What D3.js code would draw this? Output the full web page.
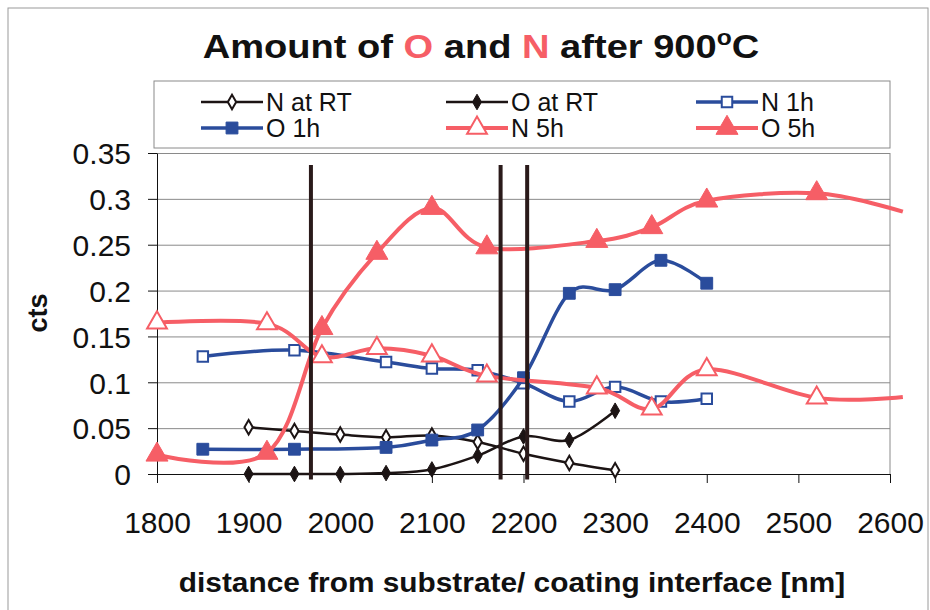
<!DOCTYPE html>
<html>
<head>
<meta charset="utf-8">
<script src="https://cdn.jsdelivr.net/npm/d3@7"></script>
<style>
  body { margin: 0; background: #fff; }
  svg { font-family: "Liberation Sans", Arial, sans-serif; }
  .axis path, .axis line { stroke: #111; }
  .grid line { stroke: #8a8a8a; stroke-width: 1; }
  .grid path { display: none; }
</style>
</head>
<body>
<svg id="chart" width="930" height="610"></svg>
<script>
// ---- data ----
const rtX = [1900, 1950, 2000, 2050, 2100, 2150, 2200, 2250, 2300];
const nAtRT = [0.051, 0.047, 0.043, 0.040, 0.042, 0.035, 0.022, 0.012, 0.004];
const oAtRT = [0.000, 0.000, 0.000, 0.001, 0.005, 0.020, 0.041, 0.037, 0.069];

const h1X = [1850, 1950, 2050, 2100, 2150, 2200, 2250, 2300, 2350, 2400];
const n1h = [0.128, 0.135, 0.122, 0.115, 0.113, 0.099, 0.079, 0.095, 0.079, 0.082];
const o1h = [0.027, 0.027, 0.029, 0.037, 0.048, 0.105, 0.197, 0.201, 0.233, 0.208];

// last point sits just past the axis end (no marker there)
const h5X = [1800, 1920, 1980, 2040, 2100, 2160, 2280, 2340, 2400, 2520, 2614];
const n5h = [0.165, 0.164, 0.128, 0.137, 0.129, 0.107, 0.094, 0.071, 0.114, 0.083, 0.084];
const o5h = [0.021, 0.023, 0.159, 0.241, 0.290, 0.247, 0.254, 0.269, 0.298, 0.306, 0.286];

const markLines = [1968, 2175, 2204];   // vertical interface markers
const markTop = 0.337, markBottom = -0.006;

const xTicks = [1800, 1900, 2000, 2100, 2200, 2300, 2400, 2500, 2600];
const yTicks = [0, 0.05, 0.1, 0.15, 0.2, 0.25, 0.3, 0.35];
const yTickLabels = ['0', '0.05', '0.1', '0.15', '0.2', '0.25', '0.3', '0.35'];

const RED = '#f65e66', BLUE = '#2a4c9c', BLACK = '#1c1414';

const series = [
  {name: 'N at RT', xs: rtX, ys: nAtRT, color: BLACK, width: 2.5, sym: d3.symbolDiamond, size: 60, open: true},
  {name: 'O at RT', xs: rtX, ys: oAtRT, color: BLACK, width: 2.5, sym: d3.symbolDiamond, size: 70, open: false},
  {name: 'N 1h', xs: h1X, ys: n1h, color: BLUE, width: 3.5, sym: d3.symbolSquare, size: 110, open: true},
  {name: 'O 1h', xs: h1X, ys: o1h, color: BLUE, width: 3.5, sym: d3.symbolSquare, size: 140, open: false},
  {name: 'N 5h', xs: h5X, ys: n5h, color: RED, width: 4, sym: d3.symbolTriangle, size: 170, open: true},
  {name: 'O 5h', xs: h5X, ys: o5h, color: RED, width: 4, sym: d3.symbolTriangle, size: 210, open: false}
];

// ---- layout ----
const svg = d3.select('#chart');
const plotL = 157, plotR = 890, plotT = 153, plotB = 474;

const x = d3.scaleLinear().domain([1800, 2600]).range([plotL, plotR]);
const y = d3.scaleLinear().domain([0, 0.35]).range([plotB, plotT]);

svg.append('rect')
  .attr('x', 8).attr('y', 8).attr('width', 920).attr('height', 620)
  .attr('fill', 'none').attr('stroke', '#9a9a9a');

// title (slightly stretched like the scan)
const title = svg.append('text')
  .attr('transform', 'translate(481,58) scale(1.12,1)')
  .attr('text-anchor', 'middle')
  .attr('font-size', 34).attr('font-weight', 'bold').attr('fill', '#111');
title.append('tspan').text('Amount of ');
title.append('tspan').attr('fill', RED).text('O');
title.append('tspan').text(' and ');
title.append('tspan').attr('fill', RED).text('N');
title.append('tspan').text(' after 900');
title.append('tspan').attr('dy', -13).attr('font-size', 22).text('o');
title.append('tspan').attr('dy', 13).text('C');

// gridlines
svg.append('g')
  .attr('class', 'grid')
  .attr('transform', `translate(${plotL},0)`)
  .call(d3.axisLeft(y).tickValues(yTicks.slice(1)).tickSize(-(plotR - plotL)).tickFormat(''));

svg.append('line')
  .attr('x1', plotR).attr('x2', plotR).attr('y1', plotT).attr('y2', plotB)
  .attr('stroke', '#8a8a8a');

// axes
const axisY = svg.append('g')
  .attr('class', 'axis')
  .attr('transform', `translate(${plotL},0)`)
  .call(d3.axisLeft(y).tickValues(yTicks).tickSize(9).tickSizeOuter(0)
    .tickFormat((d, i) => yTickLabels[i]));
axisY.selectAll('text').attr('font-size', 30).attr('fill', '#111')
  .attr('font-family', '"Liberation Sans", Arial, sans-serif').attr('x', -26).attr('dy', '0.36em');

const axisX = svg.append('g')
  .attr('class', 'axis')
  .attr('transform', `translate(0,${plotB})`)
  .call(d3.axisBottom(x).tickValues(xTicks).tickSize(9).tickSizeOuter(0).tickFormat(d3.format('d')));
axisX.selectAll('text').attr('font-size', 30).attr('fill', '#111')
  .attr('font-family', '"Liberation Sans", Arial, sans-serif').attr('y', 59).attr('dy', 0);

// axis titles
svg.append('text')
  .attr('transform', 'translate(512,592) scale(1.066,1)')
  .attr('text-anchor', 'middle')
  .attr('font-size', 28).attr('font-weight', 'bold').attr('fill', '#111')
  .text('distance from substrate/ coating interface [nm]');

svg.append('text')
  .attr('transform', 'translate(47,313) rotate(-90)')
  .attr('text-anchor', 'middle')
  .attr('font-size', 27).attr('font-weight', 'bold').attr('fill', '#111')
  .text('cts');

// series
const line = d3.line()
  .x(d => x(d[0]))
  .y(d => y(d[1]))
  .curve(d3.curveCardinal.tension(0));

const plot = svg.append('g').attr('class', 'plot');

series.forEach(s => {
  const pts = s.xs.map((v, i) => [v, s.ys[i]]);
  plot.append('path')
    .datum(pts)
    .attr('fill', 'none')
    .attr('stroke', s.color)
    .attr('stroke-width', s.width)
    .attr('stroke-linejoin', 'round')
    .attr('d', line);

  plot.selectAll(null)
    .data(pts.filter(d => d[0] <= 2600))
    .enter().append('path')
    .attr('transform', d => `translate(${x(d[0])},${y(d[1])})`)
    .attr('d', d3.symbol().type(s.sym).size(s.size))
    .attr('fill', s.open ? '#fff' : s.color)
    .attr('stroke', s.color)
    .attr('stroke-width', s.open ? 2 : 1);
});

// vertical interface lines
plot.selectAll('.mark')
  .data(markLines)
  .enter().append('line')
  .attr('class', 'mark')
  .attr('x1', d => x(d)).attr('x2', d => x(d))
  .attr('y1', y(markTop)).attr('y2', y(markBottom))
  .attr('stroke', '#2a1a1a').attr('stroke-width', 4);

// legend
svg.append('rect')
  .attr('x', 154).attr('y', 81).attr('width', 736).attr('height', 67)
  .attr('fill', '#fff').attr('stroke', '#8a8a8a');

const legCols = [201, 446, 696];
const legRows = [102, 128];
const leg = svg.append('g').attr('class', 'legend');
series.forEach((s, i) => {
  const lx = legCols[i % 3], ly = legRows[Math.floor(i / 3)];
  const g = leg.append('g').attr('transform', `translate(${lx},${ly})`);
  g.append('line').attr('x1', 0).attr('x2', 62).attr('y1', 0).attr('y2', 0)
    .attr('stroke', s.color).attr('stroke-width', s.width);
  g.append('path')
    .attr('transform', 'translate(31,0)')
    .attr('d', d3.symbol().type(s.sym).size(s.size))
    .attr('fill', s.open ? '#fff' : s.color)
    .attr('stroke', s.color)
    .attr('stroke-width', s.open ? 2 : 1);
  g.append('text')
    .attr('x', 65).attr('y', 0).attr('dy', '0.36em')
    .attr('font-size', 25).attr('fill', '#111')
    .text(s.name);
});
</script>
</body>
</html>
